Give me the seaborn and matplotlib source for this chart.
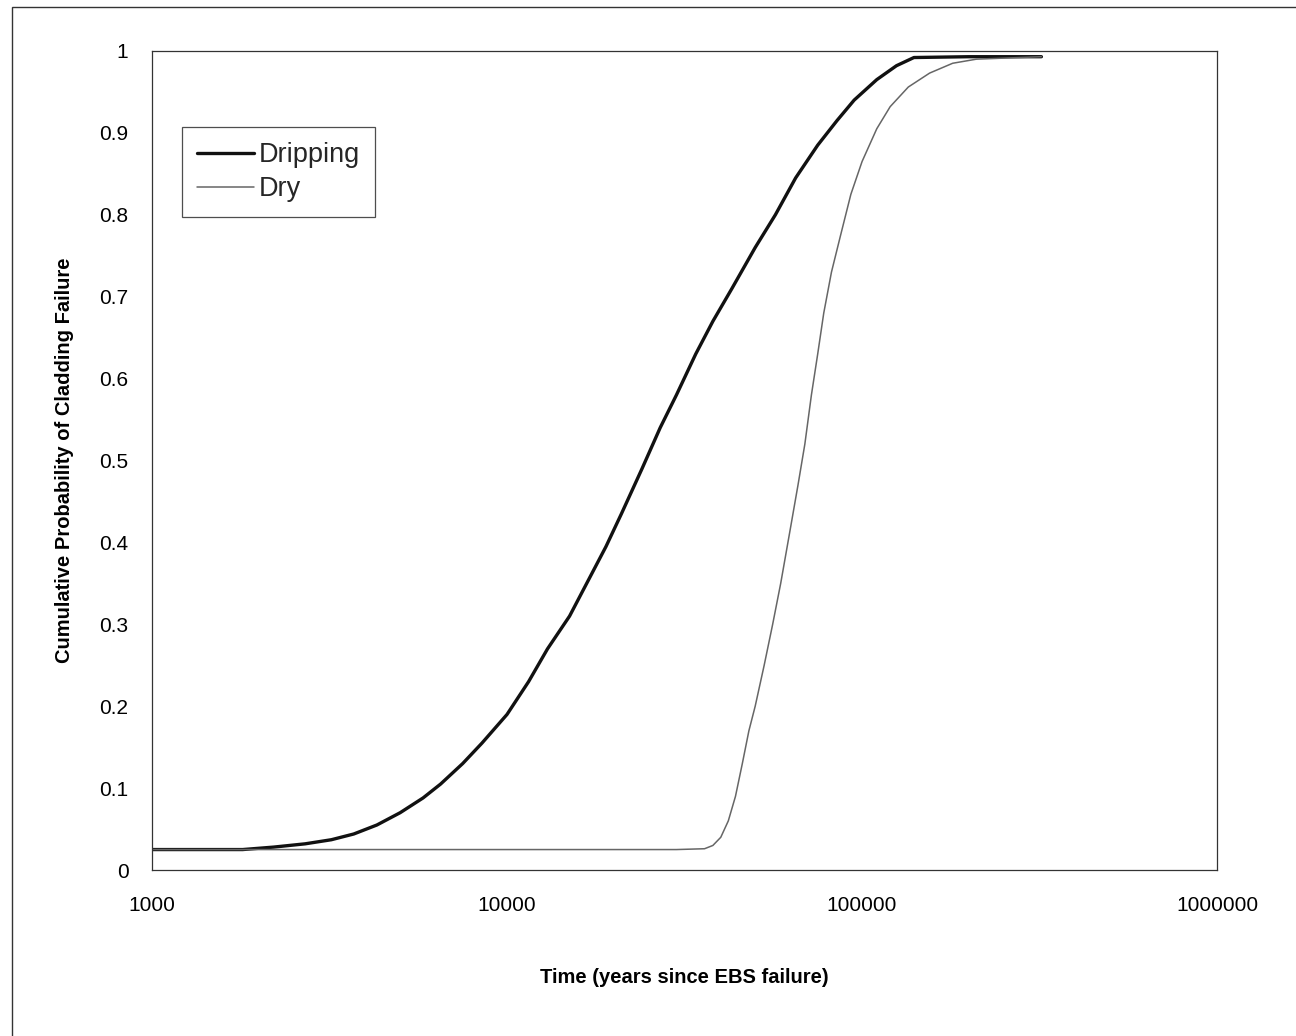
import pandas as pd
import seaborn as sns
import matplotlib.pyplot as plt
from matplotlib.patches import Rectangle

# values
drip_time = [1000, 1800, 2200, 2700, 3200, 3700, 4300, 5000, 5800, 6500, 7500,
             8500, 10000, 11500, 13000, 15000, 17000, 19000, 21000, 24000,
             27000, 30000, 34000, 38000, 43000, 50000, 57000, 65000, 75000,
             85000, 95000, 110000, 125000, 140000, 200000, 320000]
drip_prob = [0.025, 0.025, 0.028, 0.032, 0.037, 0.044, 0.055, 0.07, 0.088,
             0.105, 0.13, 0.155, 0.19, 0.23, 0.27, 0.31, 0.355, 0.395, 0.435,
             0.49, 0.54, 0.58, 0.63, 0.67, 0.71, 0.76, 0.80, 0.845, 0.885,
             0.915, 0.94, 0.965, 0.982, 0.992, 0.993, 0.993]

dry_time = [1000, 30000, 36000, 38000, 40000, 42000, 44000, 46000, 48000,
            50000, 53000, 56000, 59000, 63000, 66000, 69000, 72000, 75000,
            78000, 82000, 87000, 93000, 100000, 110000, 120000, 135000,
            155000, 180000, 210000, 320000]
dry_prob = [0.025, 0.025, 0.026, 0.03, 0.04, 0.06, 0.09, 0.13, 0.17, 0.2,
            0.25, 0.3, 0.35, 0.42, 0.47, 0.52, 0.58, 0.63, 0.68, 0.73, 0.775,
            0.825, 0.865, 0.905, 0.932, 0.956, 0.973, 0.985, 0.99, 0.993]

y_ticks = [0, 0.1, 0.2, 0.3, 0.4, 0.5, 0.6, 0.7, 0.8, 0.9, 1]
y_labels = ["0", "0.1", "0.2", "0.3", "0.4", "0.5", "0.6", "0.7", "0.8", "0.9", "1"]
x_ticks = [1000, 10000, 100000, 1000000]
x_labels = ["1000", "10000", "100000", "1000000"]

df = pd.concat([
    pd.DataFrame({"time": drip_time, "prob": drip_prob, "case": "Dripping"}),
    pd.DataFrame({"time": dry_time, "prob": dry_prob, "case": "Dry"}),
])

sns.set_style("white")
plt.rcParams["font.family"] = ["Liberation Sans", "DejaVu Sans"]

fig = plt.figure(figsize=(12.96, 10.36), dpi=100)
ax = fig.add_axes([0.1173, 0.1602, 0.8218, 0.7906])

sns.lineplot(data=df, x="time", y="prob", hue="case", size="case",
             palette={"Dripping": "#111111", "Dry": "#666666"},
             sizes={"Dripping": 2.4, "Dry": 1.1}, ax=ax, legend=False,
             estimator=None, sort=False)
dripping_line, dry_line = ax.get_lines()[:2]

ax.set_xscale("log")
ax.set_xlim(1000, 1000000)
ax.set_ylim(0, 1)
ax.set_xticks(x_ticks)
ax.set_xticklabels(x_labels)
ax.minorticks_off()
ax.set_yticks(y_ticks)
ax.set_yticklabels(y_labels)
ax.tick_params(axis="both", direction="out", length=5, width=0.8,
               labelsize=15, pad=14, color="#333333", labelcolor="black")
ax.tick_params(axis="y", pad=12)
for s in ax.spines.values():
    s.set_color("#333333")
    s.set_linewidth(0.9)

ax.set_xlabel("Time (years since EBS failure)", fontsize=14.5,
              fontweight="bold", labelpad=38, color="black")
ax.set_ylabel("Cumulative Probability of Cladding Failure", fontsize=14.5,
              fontweight="bold", labelpad=18, color="black")

leg = ax.legend([dripping_line, dry_line], ["Dripping", "Dry"],
                loc="upper left", bbox_to_anchor=(0.028, 0.907),
                borderaxespad=0, fontsize=19.5, frameon=True, fancybox=False,
                edgecolor="#222222", handlelength=2.1, handletextpad=0.2,
                borderpad=0.55, labelspacing=0.3)
leg.get_frame().set_linewidth(0.9)

# outer frame of the scanned figure
fig.patches.append(Rectangle((0.009, -0.05), 1.2, 1.043, transform=fig.transFigure,
                             fill=False, edgecolor="#333333", linewidth=1.0))

plt.savefig("out.png", dpi=100)
